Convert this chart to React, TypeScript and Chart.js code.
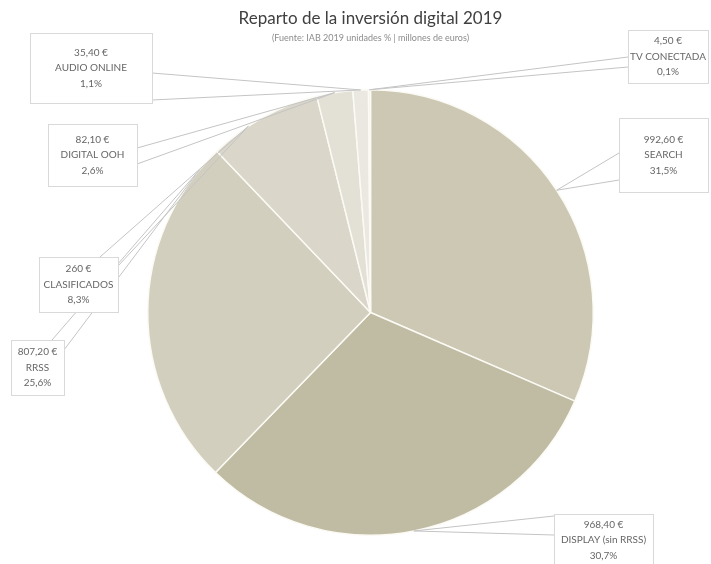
import React, { useEffect, useRef } from "react";
import { Chart, registerables } from "chart.js";

Chart.register(...registerables);

const categories = ["SEARCH", "DISPLAY (sin RRSS)", "RRSS", "CLASIFICADOS", "DIGITAL OOH", "AUDIO ONLINE", "TV CONECTADA"];
const investment = [992.6, 968.4, 807.2, 260, 82.1, 35.4, 4.5];
const amountLabels = ["992,60 €", "968,40 €", "807,20 €", "260 €", "82,10 €", "35,40 €", "4,50 €"];
const shareLabels = ["31,5%", "30,7%", "25,6%", "8,3%", "2,6%", "1,1%", "0,1%"];
const sliceColors = ["#cdc8b3", "#c0bba3", "#d3cfbe", "#dad7ca", "#e3e0d6", "#eae8e0", "#f1efea"];

// label box layout: [x, y, w, h], wedge base points, tip position within slice (0..1)
const boxLayout = [
  { box: [619, 118, 89, 74], base: [[619, 153], [619, 180]], frac: 0.5 },
  { box: [554, 514, 99, 52], base: [[554, 516], [554, 535]], frac: 0.5 },
  { box: [11, 340, 53, 55], base: [[52, 340], [64, 350]], frac: 0.93 },
  { box: [39, 257, 79, 55], base: [[100, 257], [118, 266]], frac: 0.35 },
  { box: [48, 124, 89, 62], base: [[137, 148], [137, 164]], frac: 0.5 },
  { box: [30, 33, 122, 70], base: [[152, 73], [152, 100]], frac: 0.5 },
  { box: [628, 30, 80, 53], base: [[628, 57], [628, 67]], frac: 0.5 },
];

const calloutPlugin = {
  id: "callouts",
  afterDraw(chart: any) {
    const ctx = chart.ctx;
    const meta = chart.getDatasetMeta(0);
    ctx.save();
    meta.data.forEach((arc: any, i: number) => {
      const lay = boxLayout[i];
      const a = arc.startAngle + lay.frac * (arc.endAngle - arc.startAngle);
      const tx = arc.x + Math.cos(a) * arc.outerRadius;
      const ty = arc.y + Math.sin(a) * arc.outerRadius;
      ctx.strokeStyle = "#c4c4c4";
      ctx.lineWidth = 1;
      ctx.beginPath();
      ctx.moveTo(lay.base[0][0], lay.base[0][1]);
      ctx.lineTo(tx, ty);
      ctx.lineTo(lay.base[1][0], lay.base[1][1]);
      ctx.stroke();
      const [bx, by, bw, bh] = lay.box;
      ctx.fillStyle = "#ffffff";
      ctx.fillRect(bx, by, bw, bh);
      ctx.strokeStyle = "#d9d9d9";
      ctx.strokeRect(bx + 0.5, by + 0.5, bw, bh);
      ctx.fillStyle = "#666666";
      ctx.font = "10px Lato, 'Open Sans', sans-serif";
      ctx.textAlign = "center";
      ctx.textBaseline = "middle";
      const cx = bx + bw / 2;
      const cy = by + bh / 2;
      const lines = [amountLabels[i], categories[i], shareLabels[i]];
      const lh = 15.5;
      lines.forEach((t, k) => ctx.fillText(t, cx, cy + (k - 1) * lh));
    });
    ctx.restore();
  },
};

export default function App() {
  const ref = useRef<HTMLCanvasElement>(null);
  useEffect(() => {
    document.body.style.margin = "0";
    const chart = new Chart(ref.current as HTMLCanvasElement, {
      type: "pie",
      data: {
        labels: categories,
        datasets: [
          {
            data: investment,
            backgroundColor: sliceColors,
            borderColor: "#fbfaf4",
            borderWidth: 1.5,
          },
        ],
      },
      options: {
        responsive: false,
        animation: false,
        layout: { padding: { left: 30, right: 0, top: 0, bottom: 28 } },
        plugins: {
          legend: { display: false },
          tooltip: { enabled: false },
          title: {
            display: true,
            text: "Reparto de la inversión digital 2019",
            color: "#404040",
            font: { family: "Lato", size: 17, weight: "normal" },
            padding: { top: 8.5, bottom: 0 },
          },
          subtitle: {
            display: true,
            text: "(Fuente: IAB 2019 unidades % | millones de euros)",
            color: "#8c8c8c",
            font: { family: "Lato", size: 9 },
            padding: { top: 3.7, bottom: 45.6 },
          },
        },
      },
      plugins: [calloutPlugin],
    });
    return () => chart.destroy();
  }, []);
  return (
    <div style={{ position: "absolute", left: 0, top: 0 }}>
      <canvas ref={ref} width={711} height={564} />
    </div>
  );
}
